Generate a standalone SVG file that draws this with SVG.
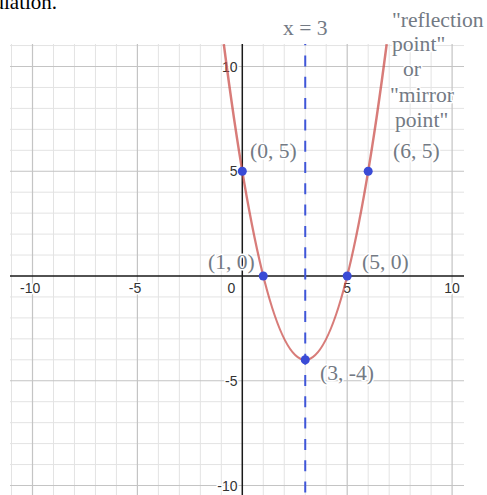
<svg xmlns="http://www.w3.org/2000/svg" width="487" height="495" viewBox="0 0 487 495">
<style>
.minor{stroke:#e3e3e3;stroke-width:1;fill:none}
.major{stroke:#c4c4c4;stroke-width:1.2;fill:none}
.axis{stroke:#1a1a1a;stroke-width:1.5;fill:none}
.num{font-family:"Liberation Sans",Arial,sans-serif;font-size:14px;fill:#333;stroke:#fff;stroke-width:3;paint-order:stroke;stroke-linejoin:round}
.lbl{font-family:"Liberation Serif","Times New Roman",serif;font-size:21.6px;fill:#737a84;stroke:#fff;stroke-width:3;paint-order:stroke;stroke-linejoin:round}
.pt{fill:#3a4bd6}
</style>
<rect x="0" y="0" width="487" height="495" fill="#fff"/>
<text x="-6.5" y="9" font-family="Liberation Serif,'Times New Roman',serif" font-size="21" fill="#000">ulation.</text>
<g id="grid">
<path class="minor" d="M11.52 44V495M53.48 44V495M74.46 44V495M95.44 44V495M116.42 44V495M158.38 44V495M179.36 44V495M200.34 44V495M221.32 44V495M263.28 44V495M284.26 44V495M305.24 44V495M326.22 44V495M368.18 44V495M389.16 44V495M410.14 44V495M431.12 44V495"/>
<path class="minor" d="M10 45.55H464M10 87.45H464M10 108.4H464M10 129.35H464M10 150.3H464M10 192.2H464M10 213.15H464M10 234.1H464M10 255.05H464M10 296.95H464M10 317.9H464M10 338.85H464M10 359.8H464M10 401.7H464M10 422.65H464M10 443.6H464M10 464.55H464"/>
<path class="major" d="M32.5 44V495M137.4 44V495M347.2 44V495M452.1 44V495M10 66.5H464M10 171.25H464M10 380.75H464M10 485.5H464"/>
</g>
<g id="axes">
<path class="axis" d="M242.3 44V495M10 276H464"/>
</g>
<g id="axis-labels">
<text class="num" x="20" y="292.5">-10</text>
<text class="num" x="128.8" y="292.5">-5</text>
<text class="num" x="231.5" y="292.5" text-anchor="middle">0</text>
<text class="num" x="347.2" y="292.5" text-anchor="middle">5</text>
<text class="num" x="452.1" y="292.5" text-anchor="middle">10</text>
<text class="num" x="237.5" y="71.5" text-anchor="end">10</text>
<text class="num" x="237.5" y="176.3" text-anchor="end">5</text>
<text class="num" x="237.5" y="385.8" text-anchor="end">-5</text>
<text class="num" x="237.5" y="490.5" text-anchor="end">-10</text>
</g>
<g id="curve">
<path d="M223.8 44.1Q305.24 675.5 386.68 44.1" fill="none" stroke="#c74440" stroke-opacity="0.7" stroke-width="2.5"/>
</g>
<g id="symmetry-line">
<line x1="305.24" y1="44" x2="305.24" y2="495" stroke="#3f56d8" stroke-width="2" stroke-dasharray="11 10.3" stroke-dashoffset="9.8"/>
</g>
<g id="points">
<circle class="pt" cx="242.3" cy="171.25" r="4.5"/>
<circle class="pt" cx="263.28" cy="276" r="4.5"/>
<circle class="pt" cx="347.2" cy="276" r="4.5"/>
<circle class="pt" cx="368.18" cy="171.25" r="4.5"/>
<circle class="pt" cx="305.24" cy="359.8" r="4.5"/>
</g>
<g id="labels">
<text class="lbl" x="283" y="35">x = 3</text>
<text class="lbl" x="250" y="158">(0, 5)</text>
<text class="lbl" x="393" y="158">(6, 5)</text>
<text class="lbl" x="208" y="269">(1, 0)</text>
<text class="lbl" x="362" y="269">(5, 0)</text>
<text class="lbl" x="320" y="379.5">(3, -4)</text>
<text class="lbl" x="392" y="27">"reflection</text>
<text class="lbl" x="392" y="51">point"</text>
<text class="lbl" x="403" y="76">or</text>
<text class="lbl" x="390" y="102">"mirror</text>
<text class="lbl" x="395" y="127">point"</text>
</g>
</svg>
